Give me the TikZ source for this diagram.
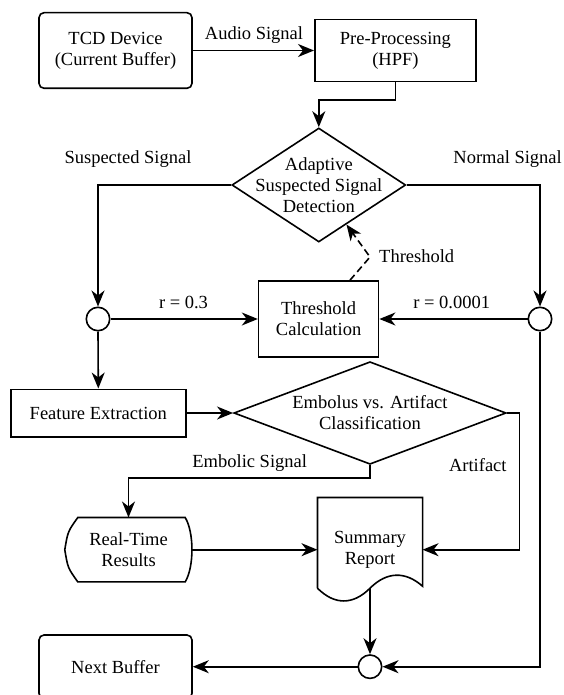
\documentclass[tikz,border=0pt]{standalone}
\usepackage{fontspec}
\setmainfont{Liberation Serif}
\usetikzlibrary{shapes.geometric,arrows.meta}
\tikzset{
  box/.style = {draw, rectangle, line width=1.6pt, inner sep=0pt, align=center},
  rbox/.style = {box, rounded corners=5pt},
  decision/.style = {draw, diamond, line width=1.6pt, inner sep=0pt},
  junction/.style = {draw, circle, line width=1.6pt, minimum size=23.4pt, inner sep=0pt},
  flow/.style = {line width=1.6pt, -{Stealth[length=16pt,width=13pt,inset=5pt]}},
  lbl/.style = {inner sep=0pt, align=center}
}

\begin{document}
\begin{tikzpicture}[x=1pt,y=-1pt,font=\fontsize{18.5}{21}\selectfont]
  \useasboundingbox (0,0) rectangle (564,695);
  %
  \coordinate (pbend) at (395.4,100);
  \coordinate (kink) at (370,257);
  \coordinate (emb) at (128.5,477.7);
  \coordinate (art) at (519.3,549.7);
  % blocks
  \node[rbox, minimum width=153pt, minimum height=75.6pt] (tcd) at (115.5,50.5) {TCD Device\\(Current Buffer)};
  \node[box, minimum width=161.2pt, minimum height=61.7pt] (pre) at (395.4,50.5) {Pre-Processing\\(HPF)};
  \node[decision, minimum width=173.8pt, minimum height=114pt] (det) at (318.8,185) {};
  \node[lbl] (detT) at (det) {Adaptive\\Suspected Signal\\Detection};
  \node[box, minimum width=120pt, minimum height=76pt] (thr) at (318.6,319) {Threshold\\Calculation};
  \node[junction] (jl) at (98,319) {};
  \node[junction] (jr) at (540,319) {};
  \node[box, minimum width=175pt, minimum height=47.4pt] (fe) at (98.3,413) {Feature Extraction};
  \node[decision, minimum width=272.3pt, minimum height=102.6pt] (cls) at (370,413) {};
  \node[lbl] (clsT) at (cls) {Embolus vs. Artifact\\Classification};
  \node[minimum width=127pt, minimum height=64pt, inner sep=0pt, align=center] (rt) at (128.5,549.7) {Real-Time\\Results};
  \node[minimum width=104.7pt, minimum height=90.3pt, inner sep=0pt] (rep) at (370,542.85) {};
  \node[lbl] (repT) at ([shift={(0,7)}]rep.center) {Summary\\Report};
  \node[junction] (jb) at (370,666.7) {};
  \node[rbox, minimum width=153pt, minimum height=63.4pt] (nb) at (115.5,666.7) {Next Buffer};
  % odd shapes
  \draw[line width=1.6pt] ([shift={(13,0)}]rt.north west) -- ([shift={(-7,0)}]rt.north east)
    .. controls ([shift={(2,15)}]rt.north east) and ([shift={(2,-15)}]rt.south east) .. ([shift={(-7,0)}]rt.south east)
    -- ([shift={(13,0)}]rt.south west) .. controls ([shift={(3,-14)}]rt.south west) .. (rt.west)
    .. controls ([shift={(3,14)}]rt.north west) .. ([shift={(13,0)}]rt.north west) -- cycle;
  \draw[line width=1.6pt] (rep.south west) -- (rep.north west) -- (rep.north east) -- ([shift={(0,-2)}]rep.south east)
    .. controls ([shift={(-17,-17)}]rep.south east) and ([shift={(17,-17)}]rep.south) .. (rep.south)
    .. controls ([shift={(-17,17)}]rep.south) and ([shift={(17,17)}]rep.south west) .. (rep.south west);
  % connectors
  \draw[flow] (tcd.east) -- (tcd.east -| pre.west);
  \node[lbl] (audioL) at (254,35) {Audio Signal};
  \draw[flow] (pre.south) -- (pbend) -| (det.north);
  \draw[flow] (det.west) -| (jl.north);
  \node[lbl] (suspL) at (128,159) {Suspected Signal};
  \draw[flow] (det.east) -| (jr.north);
  \node[lbl] (normL) at (507.6,159) {Normal Signal};
  \draw[flow, dash pattern=on 7pt off 4pt] ([shift={(31.4,0)}]thr.north) -- (kink) -- (det.305);
  \node[lbl, anchor=west] (thrL) at (379,256) {Threshold};
  \draw[flow] (jl.east) -- (thr.west);
  \node[lbl] (rlL) at (183.5,302) {r = 0.3};
  \draw[flow] (jr.west) -- (thr.east);
  \node[lbl] (rrL) at (451.7,302) {r = 0.0001};
  \draw[flow] (jl.south) -- (fe.north);
  \draw[flow] (fe.east) -- (cls.west);
  \draw[flow] (cls.south) |- (emb) -- (rt.north);
  \node[lbl] (embL) at (249.7,463) {Embolic Signal};
  \draw[flow] (cls.east) -| (art) -- (art -| rep.east);
  \node[lbl] (artL) at (477.8,465) {Artifact};
  \draw[flow] (rt.east) -- (rt.east -| rep.west);
  \draw[flow] (rep.south) -- (jb.north);
  \draw[flow] (jr.south) |- (jb.east);
  \draw[flow] (jb.west) -- (nb.east);
\end{tikzpicture}
\end{document}
